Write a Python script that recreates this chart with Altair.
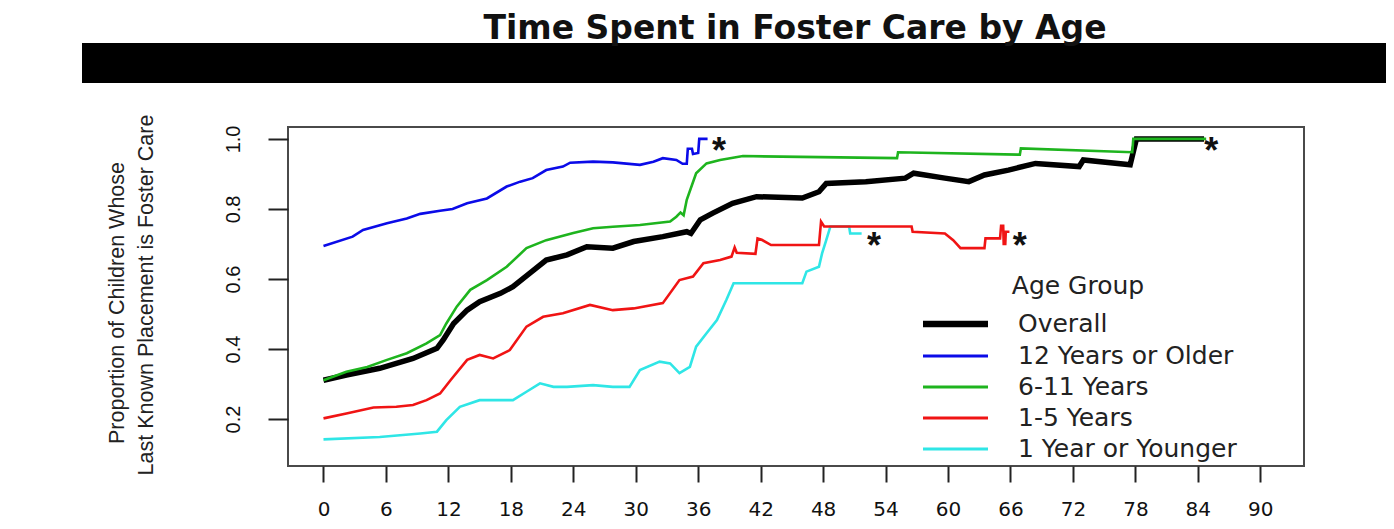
import altair as alt
import pandas as pd

TITLE = "Time Spent in Foster Care by Age"
Y_TITLE_1 = "Proportion of Children Whose"
Y_TITLE_2 = "Last Known Placement is Foster Care"
LEGEND_TITLE = "Age Group"
SERIES = ["Overall", "12 Years or Older", "6-11 Years", "1-5 Years", "1 Year or Younger"]
COLORS = ["#000000", "#0b0be8", "#1eb41e", "#f01414", "#2fe6e6"]
X_TICKS = list(range(0, 91, 6))
Y_TICKS = [0.2, 0.4, 0.6, 0.8, 1.0]

overall_t = [0, 2.2, 5.4, 8.6, 10.9, 11.5, 12.5, 13.8, 15.0, 17.0, 18.2, 19.8, 21.4, 23.4, 25.3, 27.8,
             29.8, 32.6, 34.9, 35.3, 36.2, 37.4, 39.3, 41.6, 46.0, 47.6, 48.3, 52.1, 55.9, 56.7, 59.7,
             62.0, 63.5, 65.8, 68.4, 72.6, 73.0, 77.5, 78.1, 84.6]
overall_p = [0.311, 0.326, 0.345, 0.373, 0.402, 0.426, 0.473, 0.511, 0.535, 0.559, 0.578, 0.616, 0.654,
             0.669, 0.692, 0.688, 0.707, 0.721, 0.735, 0.730, 0.769, 0.788, 0.816, 0.835, 0.831, 0.849,
             0.873, 0.878, 0.888, 0.902, 0.888, 0.878, 0.897, 0.911, 0.930, 0.921, 0.940, 0.926, 1.0, 1.0]

older_t = [0, 2.8, 3.8, 6.1, 8.0, 9.3, 11.2, 12.4, 13.8, 15.7, 17.6, 18.9, 20.1, 21.4, 23.0, 23.7, 25.9,
           27.8, 30.4, 31.7, 32.6, 33.9, 34.5, 34.9, 35.0, 35.4, 35.5, 36.0, 36.1, 36.9]
older_p = [0.694, 0.721, 0.740, 0.759, 0.773, 0.786, 0.795, 0.800, 0.816, 0.830, 0.864, 0.878, 0.888,
           0.911, 0.921, 0.932, 0.935, 0.933, 0.926, 0.935, 0.945, 0.940, 0.929, 0.929, 0.972, 0.972,
           0.957, 0.960, 1.0, 1.0]

mid_t = [0, 2.2, 4.2, 6.1, 8.0, 9.9, 11.2, 11.8, 12.8, 14.1, 15.7, 17.6, 19.5, 21.4, 24.0, 25.9, 27.8,
         30.4, 33.3, 33.9, 34.3, 34.6, 34.9, 35.8, 36.8, 38.1, 40.3, 55.1, 55.2, 66.9, 67.0, 77.7, 77.8,
         84.8]
mid_p = [0.311, 0.335, 0.349, 0.369, 0.388, 0.416, 0.440, 0.473, 0.521, 0.569, 0.597, 0.635, 0.688,
         0.711, 0.731, 0.745, 0.749, 0.754, 0.764, 0.778, 0.790, 0.782, 0.826, 0.902, 0.930, 0.940,
         0.951, 0.945, 0.962, 0.955, 0.973, 0.962, 1.0, 1.0]

young_t = [0, 2.2, 4.8, 7.0, 8.6, 9.9, 11.2, 12.2, 13.8, 15.0, 16.3, 17.9, 19.5, 21.1, 23.0, 25.6, 27.8,
           29.8, 32.6, 34.2, 35.5, 36.5, 38.1, 39.2, 39.5, 39.7, 41.5, 41.7, 42.1, 43.0, 47.6, 47.8, 48.1,
           56.5, 56.6, 59.7, 60.5, 61.2, 63.5, 63.6, 65.0, 65.1, 65.3, 65.35, 65.5, 65.55, 65.9]
young_p = [0.202, 0.216, 0.233, 0.235, 0.240, 0.254, 0.273, 0.311, 0.369, 0.383, 0.373, 0.397, 0.464,
           0.492, 0.502, 0.526, 0.511, 0.516, 0.531, 0.597, 0.607, 0.645, 0.654, 0.664, 0.690, 0.675,
           0.672, 0.716, 0.712, 0.697, 0.697, 0.764, 0.750, 0.750, 0.735, 0.730, 0.711, 0.688, 0.688,
           0.716, 0.716, 0.752, 0.752, 0.700, 0.700, 0.735, 0.735]

infant_t = [0, 5.4, 9.3, 10.9, 11.8, 13.1, 15.0, 18.2, 19.5, 20.8, 22.1, 23.4, 25.9, 27.8, 29.4, 30.4,
            32.3, 33.3, 34.2, 35.2, 35.8, 36.8, 37.8, 38.7, 39.4, 46.0, 46.4, 47.6, 47.9, 48.3, 48.7,
            50.5, 50.6, 51.7]
infant_p = [0.142, 0.149, 0.159, 0.164, 0.197, 0.235, 0.254, 0.254, 0.278, 0.302, 0.292, 0.292, 0.297,
            0.292, 0.292, 0.340, 0.364, 0.359, 0.331, 0.349, 0.407, 0.445, 0.483, 0.540, 0.588, 0.588,
            0.621, 0.635, 0.673, 0.711, 0.750, 0.750, 0.730, 0.730]

star_t = [38.0, 85.3, 66.9, 52.9]
star_p = [0.992, 0.992, 0.721, 0.721]

series_data = {
    "Overall": (overall_t, overall_p),
    "12 Years or Older": (older_t, older_p),
    "6-11 Years": (mid_t, mid_p),
    "1-5 Years": (young_t, young_p),
    "1 Year or Younger": (infant_t, infant_p),
}
frames = []
for name, (t, p) in series_data.items():
    frames.append(pd.DataFrame({"series": name, "t": t, "p": p, "i": list(range(len(t)))}))
df = pd.concat(frames, ignore_index=True)

# layout (plot origin at page x=288, y=127)
W, H = 1016, 339
xs = alt.Scale(domain=[-3.41, 94.2], nice=False, zero=False)
ys = alt.Scale(domain=[0.066, 1.034], nice=False, zero=False)
cs = alt.Scale(domain=SERIES, range=COLORS)

xaxis = alt.Axis(values=X_TICKS, title=None, domain=False, grid=False, tickSize=16, tickWidth=2,
                 tickColor="#222", labelFont="DejaVu Sans", labelFontSize=20, labelColor="#111",
                 labelPadding=17, labelFlush=False, labelOverlap=False)
yaxis = alt.Axis(values=Y_TICKS, format=".1f", title=None, domain=False, grid=False, tickSize=20,
                 tickWidth=2, tickColor="#222", labelFont="Liberation Sans", labelFontSize=20,
                 labelColor="#111", labelAngle=-90, labelAlign="center", labelBaseline="alphabetic",
                 labelPadding=29, labelOverlap=False)

one = pd.DataFrame({"k": [0]})

bar = alt.Chart(one).mark_rect(color="black").encode(
    x=alt.value(-206), x2=alt.value(1098), y=alt.value(-84), y2=alt.value(-44))

title = alt.Chart(pd.DataFrame({"s": [TITLE]})).mark_text(
    font="DejaVu Sans", fontSize=33, fontWeight="bold", align="center", baseline="alphabetic",
    color="#111").encode(x=alt.value(507), y=alt.value(-88), text="s:N")

yt1 = alt.Chart(pd.DataFrame({"s": [Y_TITLE_1]})).mark_text(
    font="Liberation Sans", fontSize=21.5, angle=270, align="center", baseline="middle",
    color="#222").encode(x=alt.value(-170), y=alt.value(176), text="s:N")
yt2 = alt.Chart(pd.DataFrame({"s": [Y_TITLE_2]})).mark_text(
    font="Liberation Sans", fontSize=21.5, angle=270, align="center", baseline="middle",
    color="#222").encode(x=alt.value(-141), y=alt.value(168), text="s:N")

widths = {"Overall": 5.5}
draw_order = ["Overall", "1 Year or Younger", "1-5 Years", "6-11 Years", "12 Years or Older"]
lines = []
for name in draw_order:
    lines.append(
        alt.Chart(df).transform_filter(alt.datum.series == name)
        .mark_line(strokeWidth=widths.get(name, 2.6), interpolate="linear", strokeJoin="miter")
        .encode(x=alt.X("t:Q", scale=xs, axis=xaxis),
                y=alt.Y("p:Q", scale=ys, axis=yaxis),
                color=alt.Color("series:N", scale=cs, legend=None),
                order="i:Q")
    )

stars = alt.Chart(pd.DataFrame({"t": star_t, "p": star_p})).mark_text(
    text="*", font="Liberation Sans", fontSize=36, fontWeight="bold", align="center",
    baseline="alphabetic", dy=21, color="#111").encode(
    x=alt.X("t:Q", scale=xs, axis=xaxis), y=alt.Y("p:Q", scale=ys, axis=yaxis))

legend_layers = [
    alt.Chart(pd.DataFrame({"s": [LEGEND_TITLE]})).mark_text(
        font="DejaVu Sans", fontSize=25, align="center", baseline="middle", color="#222"
    ).encode(x=alt.value(790), y=alt.value(159), text="s:N")
]
row_y = [197, 229, 260, 291, 322]
for i, name in enumerate(SERIES):
    d = pd.DataFrame({"series": [name]})
    legend_layers.append(
        alt.Chart(d).mark_rule(strokeWidth=6.5 if name == "Overall" else 3.2).encode(
            x=alt.value(635), x2=alt.value(700), y=alt.value(row_y[i]),
            color=alt.Color("series:N", scale=cs, legend=None)))
    legend_layers.append(
        alt.Chart(d).mark_text(font="DejaVu Sans", fontSize=25, align="left", baseline="middle",
                               color="#222").encode(
            x=alt.value(730), y=alt.value(row_y[i]), text="series:N"))

chart = alt.layer(bar, title, yt1, yt2, *lines, stars, *legend_layers).properties(
    width=W, height=H,
    autosize=alt.AutoSizeParams(type="none"),
    padding={"left": 280, "top": 119, "right": 82, "bottom": 55},
    background="white",
).configure_view(stroke="#4a4a4a", strokeWidth=2)

chart.save("out.html", embed_options={"renderer": "svg", "actions": False})
